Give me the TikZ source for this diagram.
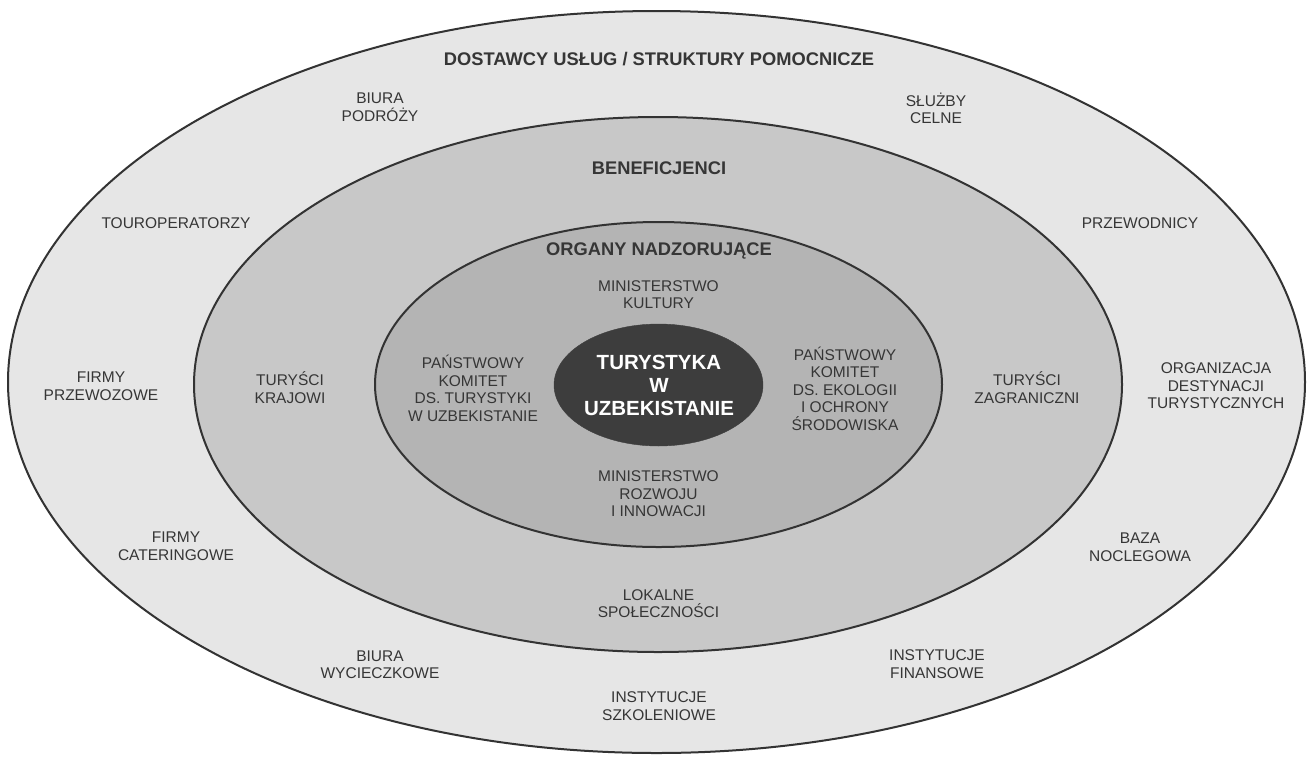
\documentclass[tikz,border=0pt]{standalone}
\usepackage{fontspec}
\setmainfont{Liberation Sans}
\usetikzlibrary{shapes.geometric}
\definecolor{ringA}{HTML}{E6E6E6}
\definecolor{ringB}{HTML}{C8C8C8}
\definecolor{ringC}{HTML}{B4B4B4}
\definecolor{coreC}{HTML}{3D3D3D}
\definecolor{lineC}{HTML}{333333}
\definecolor{txtC}{HTML}{363636}
\begin{document}
\begin{tikzpicture}[x=1pt,y=-1pt,
  ring/.style={ellipse, draw=lineC, line width=2pt, inner sep=0pt, outer sep=0pt},
  lbl/.style={align=center, text=txtC, font=\fontsize{15.5}{17.5}\selectfont, inner sep=0pt},
  ttl/.style={align=center, text=txtC, font=\fontsize{18.3}{22}\selectfont\bfseries, inner sep=0pt},
  core/.style={align=center, text=white, font=\fontsize{20.5}{23}\selectfont\bfseries, inner sep=0pt}]
\useasboundingbox (0,0) rectangle (1309,756);
\fill[white] (0,0) rectangle (1309,756);
% rings
\node[ring, fill=ringA, minimum width=1297pt, minimum height=742pt] (outer) at (656.5,382) {};
\node[ring, fill=ringB, minimum width=928pt, minimum height=535pt] (benef) at (658,384.5) {};
\node[ring, fill=ringC, minimum width=567pt, minimum height=325pt] (organ) at (658.5,384.5) {};
\node[ellipse, fill=coreC, draw=coreC, inner sep=0pt, minimum width=209pt, minimum height=122pt] (core) at (658.5,385) {};
% titles
\node[ttl] (t1) at (659,59) {DOSTAWCY USŁUG / STRUKTURY POMOCNICZE};
\node[ttl] (t2) at (659,168) {BENEFICJENCI};
\node[ttl] (t3) at (659,250.5) {ORGANY NADZORUJĄCE};
\node[core] (c1) at (659,385) {TURYSTYKA\\W\\UZBEKISTANIE};
% outer ring labels
\node[lbl] (o1) at (380,107) {BIURA\\PODRÓŻY};
\node[lbl] (o2) at (936,108.5) {SŁUŻBY\\CELNE};
\node[lbl] (o3) at (176,223) {TOUROPERATORZY};
\node[lbl] (o4) at (1140,223) {PRZEWODNICY};
\node[lbl] (o5) at (101,386) {FIRMY\\PRZEWOZOWE};
\node[lbl] (o6) at (1216,386) {ORGANIZACJA\\DESTYNACJI\\TURYSTYCZNYCH};
\node[lbl] (o7) at (176,546) {FIRMY\\CATERINGOWE};
\node[lbl] (o8) at (1140,547) {BAZA\\NOCLEGOWA};
\node[lbl] (o9) at (380,664.5) {BIURA\\WYCIECZKOWE};
\node[lbl] (o10) at (937,664) {INSTYTUCJE\\FINANSOWE};
\node[lbl] (o11) at (659,706) {INSTYTUCJE\\SZKOLENIOWE};
% beneficiaries ring labels
\node[lbl] (b1) at (290,387.5) {TURYŚCI\\KRAJOWI};
\node[lbl] (b2) at (1027,387.5) {TURYŚCI\\ZAGRANICZNI};
\node[lbl] (b3) at (658.5,603.5) {LOKALNE\\SPOŁECZNOŚCI};
% supervisory ring labels
\node[lbl] (s1) at (658.5,294.5) {MINISTERSTWO\\KULTURY};
\node[lbl] (s2) at (473,388.5) {PAŃSTWOWY\\KOMITET\\DS. TURYSTYKI\\W UZBEKISTANIE};
\node[lbl] (s3) at (845,388.5) {PAŃSTWOWY\\KOMITET\\DS. EKOLOGII\\I OCHRONY\\ŚRODOWISKA};
\node[lbl] (s4) at (658.5,494) {MINISTERSTWO\\ROZWOJU\\I INNOWACJI};
\end{tikzpicture}
\end{document}
